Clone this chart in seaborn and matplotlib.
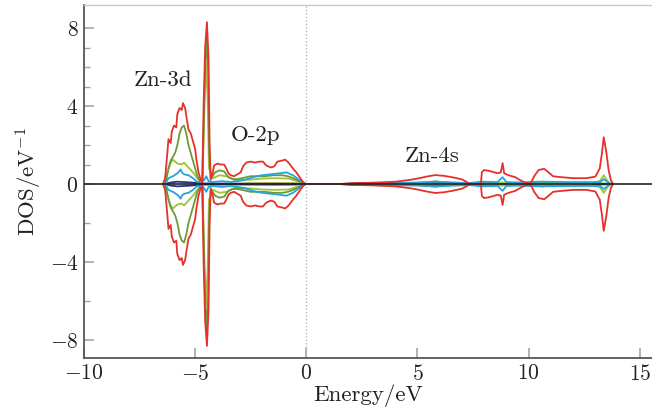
import numpy as np
import pandas as pd
import matplotlib
matplotlib.use("Agg")
import matplotlib.pyplot as plt
import seaborn as sns

# ---- projected densities of states (spin-up; spin-down is the mirror image) ----
red_e = [-6.45, -6.35, -6.25, -6.2, -6.1, -6.05, -5.95, -5.85, -5.8, -5.7, -5.6, -5.55,
         -5.45, -5.4, -5.3, -5.2, -5.1, -5.0, -4.95, -4.85, -4.75, -4.68, -4.62, -4.55,
         -4.47, -4.4, -4.35, -4.3, -4.22, -4.15, -4.0, -3.85, -3.7, -3.6, -3.5, -3.4, -3.25,
         -3.1, -2.95, -2.85, -2.7, -2.5, -2.3, -2.1, -1.95, -1.8, -1.6, -1.45, -1.3,
         -1.1, -0.95, -0.8, -0.6, -0.45, -0.3, -0.15, -0.05,
         1.5, 2.0, 3.0, 4.0, 4.6, 5.0, 5.4, 5.8, 6.2, 6.6, 7.0, 7.2, 7.35,
         7.85, 7.9, 8.0, 8.2, 8.4, 8.6, 8.75, 8.83, 8.9, 9.1, 9.4, 9.7, 9.9,
         10.1, 10.25, 10.45, 10.7, 10.9, 11.1, 11.4, 12.0, 12.6, 13.0, 13.2, 13.3,
         13.38, 13.5, 13.6, 13.7, 13.8]
red_d = [0.0, 0.3, 1.6, 2.3, 2.1, 2.7, 3.0, 2.9, 3.6, 3.9, 3.8, 4.15,
         3.9, 3.5, 2.8, 2.6, 2.2, 1.8, 1.3, 0.6, 0.2, 0.1, 4.0, 7.0,
         8.3, 6.5, 2.0, 0.3, 0.5, 0.95, 1.05, 1.0, 1.0, 0.8, 0.55, 0.45, 0.4,
         0.5, 0.6, 0.9, 1.1, 1.15, 1.1, 1.15, 1.15, 0.95, 0.85, 0.9, 1.15,
         1.2, 1.25, 1.1, 0.8, 0.6, 0.35, 0.1, 0.0,
         0.0, 0.04, 0.07, 0.12, 0.2, 0.28, 0.38, 0.46, 0.42, 0.34, 0.24, 0.12, 0.0,
         0.0, 0.62, 0.72, 0.68, 0.62, 0.55, 0.6, 1.07, 0.55, 0.45, 0.35, 0.15, 0.05,
         0.05, 0.4, 0.72, 0.78, 0.6, 0.4, 0.36, 0.3, 0.3, 0.38, 0.8, 1.6,
         2.4, 1.6, 0.7, 0.2, 0.0]

olive_e = [-6.4, -6.3, -6.2, -6.1, -6.0, -5.9, -5.8, -5.7, -5.6, -5.5, -5.4, -5.3,
           -5.2, -5.1, -5.0, -4.9, -4.8, -4.7, -4.66, -4.6, -4.5, -4.42, -4.36, -4.3,
           -4.22, -4.1, -3.9, -3.7, -3.5, -3.3, -3.1, -2.9, -2.7, -2.5, -2.3, -2.1,
           -1.9, -1.7, -1.5, -1.3, -1.1, -0.9, -0.7, -0.5, -0.3, -0.1, 0.0]
olive_d = [0.0, 0.2, 0.8, 1.2, 1.4, 1.6, 2.0, 2.6, 2.9, 3.0, 2.6, 2.0,
           1.6, 1.2, 0.8, 0.4, 0.15, 0.1, 0.1, 4.0, 7.5, 6.0, 1.5, 0.2,
           0.4, 0.6, 0.7, 0.65, 0.35, 0.25, 0.25, 0.3, 0.35, 0.4, 0.4, 0.4,
           0.4, 0.42, 0.45, 0.45, 0.45, 0.42, 0.35, 0.25, 0.12, 0.03, 0.0]

lime_e = [-6.4, -6.3, -6.1, -6.0, -5.8, -5.6, -5.5, -5.3, -5.1, -4.9, -4.7, -4.62,
          -4.52, -4.44, -4.38, -4.2, -3.9, -3.6, -3.2, -2.6, -2.0, -1.4, -0.8, -0.4, 0.0,
          7.9, 8.8, 9.5, 12.8, 13.2, 13.38, 13.55, 13.7]
lime_d = [0.0, 0.4, 1.1, 1.25, 1.05, 1.0, 1.1, 0.85, 0.6, 0.3, 0.1, 2.5,
          6.2, 4.5, 0.8, 0.3, 0.45, 0.4, 0.2, 0.22, 0.28, 0.3, 0.28, 0.15, 0.0,
          0.0, 0.08, 0.03, 0.05, 0.15, 0.45, 0.15, 0.0]

cyan_e = [-6.35, -6.2, -6.0, -5.8, -5.65, -5.6, -5.5, -5.3, -5.1, -4.9, -4.6, -4.5,
          -4.4, -4.2, -3.8, -3.4, -2.8, -2.4, -2.0, -1.6, -1.2, -0.9, -0.6, -0.3, 0.0,
          1.5, 3.0, 5.0, 5.8, 7.3, 7.9, 8.6, 8.83, 9.0, 9.5, 10.5, 12.0, 13.2, 13.38,
          13.55, 13.7]
cyan_d = [0.0, 0.3, 0.4, 0.55, 0.75, 0.6, 0.5, 0.45, 0.3, 0.1, 0.2, 0.4,
          0.15, 0.1, 0.15, 0.1, 0.2, 0.35, 0.45, 0.5, 0.55, 0.6, 0.45, 0.2, 0.0,
          0.0, 0.03, 0.08, 0.12, 0.05, 0.12, 0.1, 0.35, 0.1, 0.08, 0.12, 0.1, 0.1, 0.25,
          0.1, 0.0]

navy_e = [-6.35, -6.1, -5.8, -5.5, -5.2, -4.9, -4.6, -3.0, -0.5, 0.0,
          1.5, 2.5, 4.0, 5.0, 6.5, 7.3]
navy_d = [0.0, 0.08, 0.12, 0.1, 0.08, 0.05, 0.03, 0.02, 0.02, 0.0,
          0.0, 0.05, 0.06, 0.05, 0.03, 0.0]

teal_e = [4.5, 5.3, 5.8, 6.3, 7.2, 7.9, 8.5, 9.5, 10.3, 10.6, 11.0, 12.0, 13.0, 13.7]
teal_d = [0.0, 0.08, 0.13, 0.08, 0.0, 0.04, 0.06, 0.03, 0.06, 0.12, 0.08, 0.05, 0.04, 0.0]

yellow_e = [-3.5, -2.5, -1.5, -0.5, 0.0, 7.9, 8.5, 10.3, 10.7, 11.5, 13.0, 13.7]
yellow_d = [0.0, 0.04, 0.05, 0.04, 0.0, 0.0, 0.06, 0.03, 0.08, 0.05, 0.04, 0.0]

channels = [
    ("yellow", yellow_e, yellow_d, "#e6cf1a"),
    ("teal", teal_e, teal_d, "#1d7a3e"),
    ("navy", navy_e, navy_d, "#23328c"),
    ("lime", lime_e, lime_d, "#9cc33a"),
    ("olive", olive_e, olive_d, "#6c9a35"),
    ("cyan", cyan_e, cyan_d, "#27a3dc"),
    ("total", red_e, red_d, "#e5312b"),
]

frames = []
for name, e, d, _ in channels:
    e = np.asarray(e, dtype=float)
    d = np.asarray(d, dtype=float)
    frames.append(pd.DataFrame({"energy": e, "dos": d, "channel": name, "spin": "up"}))
    frames.append(pd.DataFrame({"energy": e, "dos": -d, "channel": name, "spin": "down"}))
df = pd.concat(frames, ignore_index=True)

sns.set_style("ticks")
plt.rcParams["font.family"] = ["cmr10", "DejaVu Serif"]
plt.rcParams["mathtext.fontset"] = "cm"
plt.rcParams["axes.formatter.use_mathtext"] = True
plt.rcParams["axes.unicode_minus"] = True

fig = plt.figure(figsize=(6.52, 4.19), dpi=100)
ax = fig.add_axes([84 / 652, 1 - 358 / 419, 1 - 84 / 652, (358 - 5) / 419])

ax.axvline(0, color="#b8b8b8", lw=1.0, ls=(0, (1, 1.5)), zorder=1)

for name, _, _, col in channels:
    sub = df[df["channel"] == name]
    sns.lineplot(data=sub, x="energy", y="dos", units="spin", estimator=None,
                 color=col, lw=1.3, ax=ax, legend=False, zorder=3)

ax.axhline(0, color="#222222", lw=1.2, zorder=4)

ax.set_xlim(-10, 15.55)
ax.set_ylim(-8.92, 9.18)
ax.set_xticks([-10, -5, 0, 5, 10, 15])
ax.set_yticks([-8, -4, 0, 4, 8])
ax.set_yticks([7, 6, 5, 3, 2, 1, -2, -6], minor=True)
ax.tick_params(axis="both", which="both", direction="in", color="#9aa7b2",
               labelsize=15.5, labelcolor="#222222")
ax.tick_params(axis="both", which="major", length=7, width=1.2, pad=4)
ax.tick_params(axis="y", which="minor", length=4, width=1.0)

for side in ["left", "bottom"]:
    ax.spines[side].set_color("#5a5550")
    ax.spines[side].set_linewidth(1.3)
ax.spines["top"].set_color("#c8c8c8")
ax.spines["top"].set_linewidth(1.0)
ax.spines["right"].set_visible(False)

ax.set_xlabel("Energy/eV", fontsize=16.5, color="#222222", labelpad=1)
ax.set_ylabel(r"DOS/eV$^{-1}$", fontsize=16.5, color="#222222", labelpad=4)

ax.text(-6.47, 5.33, "Zn-3d", fontsize=16.5, ha="center", va="center", color="#222222")
ax.text(-2.3, 2.5, "O-2p", fontsize=16.5, ha="center", va="center", color="#222222")
ax.text(5.66, 1.43, "Zn-4s", fontsize=16.5, ha="center", va="center", color="#222222")

fig.savefig("out.png", dpi=100)
